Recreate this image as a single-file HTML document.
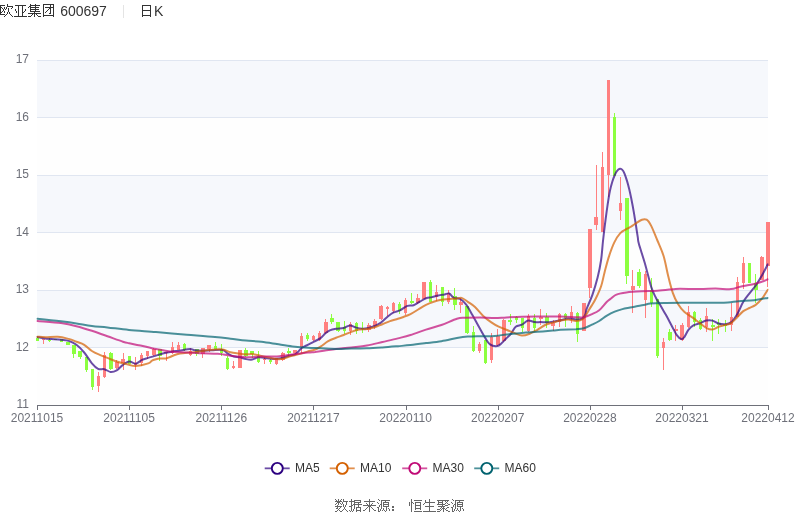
<!DOCTYPE html>
<html lang="zh"><head><meta charset="utf-8"><title>欧亚集团 600697 日K</title>
<style>
html,body{margin:0;padding:0;background:#fff;}
body{width:800px;height:517px;overflow:hidden;position:relative;font-family:"Liberation Sans",sans-serif;}
#chart{position:absolute;left:0;top:0;width:800px;height:517px;}
#txt{position:absolute;left:0;top:0;width:800px;height:517px;overflow:hidden;will-change:transform;}
.t{position:absolute;white-space:nowrap;line-height:1;}
.yl{position:absolute;width:29px;left:0;text-align:right;font-size:12px;line-height:12px;color:#6e7079;}
.xl{position:absolute;width:80px;text-align:center;font-size:12px;line-height:12px;color:#6e7079;top:411.5px;}
.lg{position:absolute;font-size:12px;line-height:14px;color:#333;top:461px;}
</style></head><body>
<svg id="chart" role="img" aria-label="欧亚集团 600697 日K 数据来源： 恒生聚源" width="800" height="517" viewBox="0 0 800 517">

<rect x="37" y="60.50" width="731" height="57.50" fill="#f6f8fc"/>
<rect x="37" y="118.00" width="731" height="57.50" fill="#fefefe"/>
<rect x="37" y="175.50" width="731" height="57.50" fill="#f6f8fc"/>
<rect x="37" y="233.00" width="731" height="57.50" fill="#fefefe"/>
<rect x="37" y="290.50" width="731" height="57.50" fill="#f6f8fc"/>
<rect x="37" y="348.00" width="731" height="57.50" fill="#fefefe"/>
<path d="M37 60.5H768" stroke="#e0e6f1" stroke-width="1" fill="none"/>
<path d="M37 117.5H768" stroke="#e0e6f1" stroke-width="1" fill="none"/>
<path d="M37 175.5H768" stroke="#e0e6f1" stroke-width="1" fill="none"/>
<path d="M37 232.5H768" stroke="#e0e6f1" stroke-width="1" fill="none"/>
<path d="M37 290.5H768" stroke="#e0e6f1" stroke-width="1" fill="none"/>
<path d="M37 347.5H768" stroke="#e0e6f1" stroke-width="1" fill="none"/>
<path d="M37 405.5H769" stroke="#6e7079" stroke-width="1" fill="none"/>
<path d="M37.5 405v5M129.5 405v5M221.5 405v5M313.5 405v5M406.5 405v5M498.5 405v5M590.5 405v5M682.5 405v5M768.5 405v5" stroke="#6e7079" stroke-width="1" fill="none"/>
<path d="M37.5 337V341" stroke="#8cff40" stroke-width="1"/><rect x="36" y="338" width="3" height="3" fill="#8cff40"/>
<path d="M43.5 339V344" stroke="#ff8080" stroke-width="1"/><rect x="42" y="339" width="3" height="1" fill="#ff8080"/>
<path d="M49.5 338V342" stroke="#8cff40" stroke-width="1"/><rect x="48" y="340" width="3" height="1" fill="#8cff40"/>
<path d="M55.5 339V340" stroke="#8cff40" stroke-width="1"/><rect x="54" y="339" width="3" height="1" fill="#8cff40"/>
<path d="M61.5 339V342" stroke="#8cff40" stroke-width="1"/><rect x="60" y="339" width="3" height="3" fill="#8cff40"/>
<path d="M67.5 342V345" stroke="#8cff40" stroke-width="1"/><rect x="66" y="342" width="4" height="3" fill="#8cff40"/>
<path d="M73.5 345V358" stroke="#8cff40" stroke-width="1"/><rect x="72" y="345" width="4" height="9" fill="#8cff40"/>
<path d="M80.5 351V359" stroke="#8cff40" stroke-width="1"/><rect x="78" y="351" width="4" height="6" fill="#8cff40"/>
<path d="M86.5 357V372" stroke="#8cff40" stroke-width="1"/><rect x="85" y="357" width="3" height="13" fill="#8cff40"/>
<path d="M92.5 369V390" stroke="#8cff40" stroke-width="1"/><rect x="91" y="369" width="3" height="18" fill="#8cff40"/>
<path d="M98.5 372V392" stroke="#ff8080" stroke-width="1"/><rect x="97" y="376" width="3" height="10" fill="#ff8080"/>
<path d="M104.5 352V378" stroke="#ff8080" stroke-width="1"/><rect x="103" y="355" width="3" height="22" fill="#ff8080"/>
<path d="M110.5 352V370" stroke="#8cff40" stroke-width="1"/><rect x="109" y="353" width="4" height="16" fill="#8cff40"/>
<path d="M116.5 360V369" stroke="#ff8080" stroke-width="1"/><rect x="115" y="362" width="4" height="6" fill="#ff8080"/>
<path d="M123.5 353V370" stroke="#ff8080" stroke-width="1"/><rect x="121" y="359" width="4" height="4" fill="#ff8080"/>
<path d="M129.5 356V364" stroke="#8cff40" stroke-width="1"/><rect x="128" y="356" width="3" height="8" fill="#8cff40"/>
<path d="M135.5 357V370" stroke="#ff8080" stroke-width="1"/><rect x="134" y="363" width="3" height="2" fill="#ff8080"/>
<path d="M141.5 353V366" stroke="#ff8080" stroke-width="1"/><rect x="140" y="355" width="3" height="8" fill="#ff8080"/>
<path d="M147.5 351V359" stroke="#ff8080" stroke-width="1"/><rect x="146" y="351" width="3" height="5" fill="#ff8080"/>
<path d="M153.5 348V356" stroke="#ff8080" stroke-width="1"/><rect x="152" y="349" width="4" height="6" fill="#ff8080"/>
<path d="M159.5 349V361" stroke="#8cff40" stroke-width="1"/><rect x="158" y="349" width="4" height="7" fill="#8cff40"/>
<path d="M166.5 352V361" stroke="#ff8080" stroke-width="1"/><rect x="164" y="352" width="4" height="1" fill="#ff8080"/>
<path d="M172.5 342V354" stroke="#ff8080" stroke-width="1"/><rect x="171" y="347" width="3" height="6" fill="#ff8080"/>
<path d="M178.5 342V350" stroke="#ff8080" stroke-width="1"/><rect x="177" y="345" width="3" height="5" fill="#ff8080"/>
<path d="M184.5 343V351" stroke="#8cff40" stroke-width="1"/><rect x="183" y="344" width="3" height="6" fill="#8cff40"/>
<path d="M190.5 348V356" stroke="#ff8080" stroke-width="1"/><rect x="189" y="351" width="3" height="4" fill="#ff8080"/>
<path d="M196.5 349V356" stroke="#8cff40" stroke-width="1"/><rect x="195" y="349" width="4" height="5" fill="#8cff40"/>
<path d="M202.5 348V358" stroke="#ff8080" stroke-width="1"/><rect x="201" y="348" width="4" height="6" fill="#ff8080"/>
<path d="M209.5 345V352" stroke="#ff8080" stroke-width="1"/><rect x="207" y="345" width="4" height="4" fill="#ff8080"/>
<path d="M215.5 342V349" stroke="#8cff40" stroke-width="1"/><rect x="214" y="346" width="3" height="3" fill="#8cff40"/>
<path d="M221.5 344V356" stroke="#8cff40" stroke-width="1"/><rect x="220" y="349" width="3" height="4" fill="#8cff40"/>
<path d="M227.5 356V370" stroke="#8cff40" stroke-width="1"/><rect x="226" y="358" width="3" height="11" fill="#8cff40"/>
<path d="M233.5 361V369" stroke="#ff8080" stroke-width="1"/><rect x="232" y="366" width="3" height="2" fill="#ff8080"/>
<path d="M239.5 350V368" stroke="#ff8080" stroke-width="1"/><rect x="238" y="350" width="4" height="18" fill="#ff8080"/>
<path d="M245.5 348V357" stroke="#8cff40" stroke-width="1"/><rect x="244" y="350" width="4" height="6" fill="#8cff40"/>
<path d="M252.5 351V358" stroke="#8cff40" stroke-width="1"/><rect x="250" y="351" width="4" height="3" fill="#8cff40"/>
<path d="M258.5 351V363" stroke="#8cff40" stroke-width="1"/><rect x="257" y="356" width="3" height="6" fill="#8cff40"/>
<path d="M264.5 357V364" stroke="#ff8080" stroke-width="1"/><rect x="263" y="359" width="3" height="1" fill="#ff8080"/>
<path d="M270.5 359V364" stroke="#8cff40" stroke-width="1"/><rect x="269" y="360" width="3" height="2" fill="#8cff40"/>
<path d="M276.5 358V365" stroke="#ff8080" stroke-width="1"/><rect x="275" y="358" width="3" height="6" fill="#ff8080"/>
<path d="M282.5 352V361" stroke="#ff8080" stroke-width="1"/><rect x="281" y="353" width="4" height="7" fill="#ff8080"/>
<path d="M288.5 348V356" stroke="#8cff40" stroke-width="1"/><rect x="287" y="351" width="4" height="2" fill="#8cff40"/>
<path d="M295.5 350V354" stroke="#ff8080" stroke-width="1"/><rect x="293" y="350" width="4" height="3" fill="#ff8080"/>
<path d="M301.5 333V353" stroke="#ff8080" stroke-width="1"/><rect x="300" y="336" width="3" height="11" fill="#ff8080"/>
<path d="M307.5 333V341" stroke="#8cff40" stroke-width="1"/><rect x="306" y="335" width="3" height="4" fill="#8cff40"/>
<path d="M313.5 335V341" stroke="#ff8080" stroke-width="1"/><rect x="312" y="336" width="3" height="4" fill="#ff8080"/>
<path d="M319.5 331V341" stroke="#ff8080" stroke-width="1"/><rect x="318" y="333" width="3" height="7" fill="#ff8080"/>
<path d="M325.5 319V334" stroke="#ff8080" stroke-width="1"/><rect x="324" y="322" width="4" height="11" fill="#ff8080"/>
<path d="M331.5 314V324" stroke="#8cff40" stroke-width="1"/><rect x="330" y="318" width="4" height="4" fill="#8cff40"/>
<path d="M338.5 322V332" stroke="#8cff40" stroke-width="1"/><rect x="336" y="322" width="4" height="9" fill="#8cff40"/>
<path d="M344.5 321V334" stroke="#8cff40" stroke-width="1"/><rect x="343" y="327" width="3" height="4" fill="#8cff40"/>
<path d="M350.5 322V335" stroke="#ff8080" stroke-width="1"/><rect x="349" y="324" width="3" height="7" fill="#ff8080"/>
<path d="M356.5 322V334" stroke="#8cff40" stroke-width="1"/><rect x="355" y="323" width="3" height="8" fill="#8cff40"/>
<path d="M362.5 322V333" stroke="#8cff40" stroke-width="1"/><rect x="361" y="328" width="3" height="1" fill="#8cff40"/>
<path d="M368.5 323V332" stroke="#ff8080" stroke-width="1"/><rect x="367" y="325" width="4" height="5" fill="#ff8080"/>
<path d="M374.5 319V329" stroke="#ff8080" stroke-width="1"/><rect x="373" y="321" width="4" height="5" fill="#ff8080"/>
<path d="M381.5 305V320" stroke="#ff8080" stroke-width="1"/><rect x="379" y="306" width="4" height="13" fill="#ff8080"/>
<path d="M387.5 306V316" stroke="#ff8080" stroke-width="1"/><rect x="386" y="307" width="3" height="2" fill="#ff8080"/>
<path d="M393.5 302V313" stroke="#ff8080" stroke-width="1"/><rect x="392" y="303" width="3" height="8" fill="#ff8080"/>
<path d="M399.5 302V314" stroke="#8cff40" stroke-width="1"/><rect x="398" y="304" width="3" height="7" fill="#8cff40"/>
<path d="M405.5 298V315" stroke="#ff8080" stroke-width="1"/><rect x="404" y="300" width="3" height="13" fill="#ff8080"/>
<path d="M411.5 293V304" stroke="#8cff40" stroke-width="1"/><rect x="410" y="301" width="4" height="2" fill="#8cff40"/>
<path d="M417.5 294V304" stroke="#ff8080" stroke-width="1"/><rect x="416" y="298" width="4" height="5" fill="#ff8080"/>
<path d="M424.5 282V299" stroke="#ff8080" stroke-width="1"/><rect x="422" y="282" width="4" height="17" fill="#ff8080"/>
<path d="M430.5 280V302" stroke="#8cff40" stroke-width="1"/><rect x="429" y="282" width="3" height="20" fill="#8cff40"/>
<path d="M436.5 285V301" stroke="#ff8080" stroke-width="1"/><rect x="435" y="292" width="3" height="5" fill="#ff8080"/>
<path d="M442.5 287V306" stroke="#8cff40" stroke-width="1"/><rect x="441" y="287" width="3" height="15" fill="#8cff40"/>
<path d="M448.5 290V304" stroke="#ff8080" stroke-width="1"/><rect x="447" y="293" width="3" height="9" fill="#ff8080"/>
<path d="M454.5 288V310" stroke="#8cff40" stroke-width="1"/><rect x="453" y="296" width="4" height="9" fill="#8cff40"/>
<path d="M460.5 298V313" stroke="#ff8080" stroke-width="1"/><rect x="459" y="302" width="4" height="3" fill="#ff8080"/>
<path d="M467.5 306V334" stroke="#8cff40" stroke-width="1"/><rect x="465" y="306" width="4" height="27" fill="#8cff40"/>
<path d="M473.5 326V352" stroke="#8cff40" stroke-width="1"/><rect x="472" y="332" width="3" height="19" fill="#8cff40"/>
<path d="M479.5 342V353" stroke="#ff8080" stroke-width="1"/><rect x="478" y="344" width="3" height="7" fill="#ff8080"/>
<path d="M485.5 340V364" stroke="#8cff40" stroke-width="1"/><rect x="484" y="340" width="3" height="23" fill="#8cff40"/>
<path d="M491.5 333V363" stroke="#ff8080" stroke-width="1"/><rect x="490" y="337" width="3" height="23" fill="#ff8080"/>
<path d="M497.5 329V346" stroke="#ff8080" stroke-width="1"/><rect x="496" y="336" width="4" height="9" fill="#ff8080"/>
<path d="M503.5 319V342" stroke="#ff8080" stroke-width="1"/><rect x="502" y="320" width="4" height="21" fill="#ff8080"/>
<path d="M510.5 314V325" stroke="#8cff40" stroke-width="1"/><rect x="508" y="320" width="4" height="2" fill="#8cff40"/>
<path d="M516.5 316V323" stroke="#8cff40" stroke-width="1"/><rect x="515" y="317" width="3" height="3" fill="#8cff40"/>
<path d="M522.5 318V332" stroke="#8cff40" stroke-width="1"/><rect x="521" y="318" width="3" height="10" fill="#8cff40"/>
<path d="M528.5 314V332" stroke="#ff8080" stroke-width="1"/><rect x="527" y="316" width="3" height="15" fill="#ff8080"/>
<path d="M534.5 314V331" stroke="#8cff40" stroke-width="1"/><rect x="533" y="318" width="3" height="10" fill="#8cff40"/>
<path d="M540.5 309V325" stroke="#ff8080" stroke-width="1"/><rect x="539" y="317" width="4" height="2" fill="#ff8080"/>
<path d="M546.5 313V328" stroke="#8cff40" stroke-width="1"/><rect x="545" y="317" width="4" height="6" fill="#8cff40"/>
<path d="M553.5 320V331" stroke="#ff8080" stroke-width="1"/><rect x="551" y="323" width="4" height="3" fill="#ff8080"/>
<path d="M559.5 313V327" stroke="#ff8080" stroke-width="1"/><rect x="558" y="314" width="3" height="8" fill="#ff8080"/>
<path d="M565.5 313V327" stroke="#8cff40" stroke-width="1"/><rect x="564" y="314" width="3" height="4" fill="#8cff40"/>
<path d="M571.5 306V323" stroke="#ff8080" stroke-width="1"/><rect x="570" y="312" width="3" height="6" fill="#ff8080"/>
<path d="M577.5 312V342" stroke="#8cff40" stroke-width="1"/><rect x="576" y="313" width="3" height="21" fill="#8cff40"/>
<path d="M583.5 303V331" stroke="#ff8080" stroke-width="1"/><rect x="582" y="303" width="4" height="28" fill="#ff8080"/>
<path d="M589.5 229V298" stroke="#ff8080" stroke-width="1"/><rect x="588" y="229" width="4" height="59" fill="#ff8080"/>
<path d="M596.5 165V230" stroke="#ff8080" stroke-width="1"/><rect x="594" y="217" width="4" height="8" fill="#ff8080"/>
<path d="M602.5 152V232" stroke="#ff8080" stroke-width="1"/><rect x="601" y="167" width="3" height="65" fill="#ff8080"/>
<path d="M608.5 80V197" stroke="#ff8080" stroke-width="1"/><rect x="607" y="80" width="3" height="95" fill="#ff8080"/>
<path d="M614.5 113V176" stroke="#8cff40" stroke-width="1"/><rect x="613" y="117" width="3" height="59" fill="#8cff40"/>
<path d="M620.5 177V220" stroke="#ff8080" stroke-width="1"/><rect x="619" y="203" width="3" height="8" fill="#ff8080"/>
<path d="M626.5 198V284" stroke="#8cff40" stroke-width="1"/><rect x="625" y="198" width="4" height="78" fill="#8cff40"/>
<path d="M632.5 270V313" stroke="#ff8080" stroke-width="1"/><rect x="631" y="286" width="4" height="4" fill="#ff8080"/>
<path d="M639.5 269V288" stroke="#8cff40" stroke-width="1"/><rect x="637" y="272" width="4" height="14" fill="#8cff40"/>
<path d="M645.5 271V318" stroke="#ff8080" stroke-width="1"/><rect x="644" y="274" width="3" height="26" fill="#ff8080"/>
<path d="M651.5 278V307" stroke="#8cff40" stroke-width="1"/><rect x="650" y="290" width="3" height="13" fill="#8cff40"/>
<path d="M657.5 299V358" stroke="#8cff40" stroke-width="1"/><rect x="656" y="299" width="3" height="57" fill="#8cff40"/>
<path d="M663.5 338V370" stroke="#ff8080" stroke-width="1"/><rect x="662" y="342" width="3" height="6" fill="#ff8080"/>
<path d="M669.5 329V341" stroke="#8cff40" stroke-width="1"/><rect x="668" y="332" width="4" height="8" fill="#8cff40"/>
<path d="M675.5 325V341" stroke="#ff8080" stroke-width="1"/><rect x="674" y="329" width="4" height="2" fill="#ff8080"/>
<path d="M682.5 323V341" stroke="#ff8080" stroke-width="1"/><rect x="680" y="325" width="4" height="15" fill="#ff8080"/>
<path d="M688.5 306V328" stroke="#ff8080" stroke-width="1"/><rect x="687" y="312" width="3" height="15" fill="#ff8080"/>
<path d="M694.5 311V327" stroke="#8cff40" stroke-width="1"/><rect x="693" y="312" width="3" height="10" fill="#8cff40"/>
<path d="M700.5 318V330" stroke="#8cff40" stroke-width="1"/><rect x="699" y="320" width="3" height="9" fill="#8cff40"/>
<path d="M706.5 308V332" stroke="#ff8080" stroke-width="1"/><rect x="705" y="316" width="3" height="11" fill="#ff8080"/>
<path d="M712.5 319V341" stroke="#8cff40" stroke-width="1"/><rect x="711" y="325" width="4" height="2" fill="#8cff40"/>
<path d="M718.5 319V334" stroke="#8cff40" stroke-width="1"/><rect x="717" y="323" width="4" height="2" fill="#8cff40"/>
<path d="M725.5 320V332" stroke="#8cff40" stroke-width="1"/><rect x="723" y="324" width="4" height="2" fill="#8cff40"/>
<path d="M731.5 303V331" stroke="#ff8080" stroke-width="1"/><rect x="730" y="317" width="3" height="8" fill="#ff8080"/>
<path d="M737.5 277V317" stroke="#ff8080" stroke-width="1"/><rect x="736" y="282" width="3" height="35" fill="#ff8080"/>
<path d="M743.5 257V289" stroke="#ff8080" stroke-width="1"/><rect x="742" y="263" width="3" height="20" fill="#ff8080"/>
<path d="M749.5 263V283" stroke="#8cff40" stroke-width="1"/><rect x="748" y="263" width="3" height="20" fill="#8cff40"/>
<path d="M755.5 274V303" stroke="#8cff40" stroke-width="1"/><rect x="754" y="283" width="4" height="7" fill="#8cff40"/>
<path d="M761.5 256V280" stroke="#ff8080" stroke-width="1"/><rect x="760" y="257" width="4" height="23" fill="#ff8080"/>
<path d="M767.5 222V287" stroke="#ff8080" stroke-width="1"/><rect x="766" y="222" width="4" height="44" fill="#ff8080"/>
<clipPath id="gc"><rect x="36.5" y="50" width="732" height="360"/></clipPath><g clip-path="url(#gc)">
<path d="M37.3 337.0C38.7 337.3 41.5 338.2 45.5 338.6C49.5 339.1 57.1 339.3 61.0 339.7C64.9 340.1 66.1 340.0 68.7 340.9C71.3 341.8 73.8 342.9 76.4 344.8C79.0 346.7 81.6 349.4 84.2 352.5C86.8 355.6 89.6 360.6 91.9 363.3C94.2 366.0 96.0 367.8 98.1 368.8C100.2 369.8 102.2 368.7 104.3 369.2C106.4 369.7 108.4 371.7 110.5 371.9C112.6 372.1 114.6 371.5 116.7 370.3C118.8 369.1 120.8 366.3 122.9 364.9C125.0 363.4 127.2 361.8 129.3 361.6C131.5 361.4 133.7 364.0 135.8 363.7C137.9 363.4 139.9 360.9 142.0 359.9C144.1 358.9 145.9 358.6 148.2 357.9C150.5 357.2 153.4 356.4 156.0 355.6C158.6 354.8 161.1 354.0 163.7 353.3C166.3 352.6 168.8 352.1 171.4 351.7C174.0 351.3 176.1 351.1 179.2 350.7C182.3 350.3 187.4 349.2 190.0 349.1C192.6 349.0 192.6 349.9 194.7 350.2C196.8 350.5 199.6 350.7 202.4 350.7C205.2 350.7 208.3 350.3 211.7 350.2C215.1 350.1 220.1 349.4 222.7 349.9C225.3 350.4 225.6 352.3 227.4 353.4C229.2 354.5 231.5 355.9 233.6 356.5C235.7 357.1 237.7 356.9 239.8 357.3C241.9 357.7 243.9 358.7 246.0 359.1C248.1 359.5 250.1 359.9 252.2 359.6C254.2 359.3 256.2 357.6 258.3 357.3C260.4 357.0 262.4 357.8 264.5 358.0C266.6 358.2 268.6 358.7 270.7 358.8C272.8 358.9 274.8 359.0 276.9 358.8C279.0 358.6 281.0 358.1 283.1 357.6C285.2 357.1 287.2 356.3 289.3 355.7C291.4 355.1 293.4 355.5 295.5 354.2C297.6 352.9 299.9 349.4 301.7 348.0C303.5 346.6 304.7 346.4 306.5 345.5C308.3 344.6 310.4 343.5 312.7 342.3C315.0 341.1 318.4 339.6 320.5 338.1C322.6 336.6 323.6 334.8 325.1 333.5C326.7 332.2 328.0 331.2 329.8 330.4C331.6 329.6 333.7 329.2 336.0 328.8C338.3 328.4 341.4 328.6 343.7 328.0C346.0 327.4 347.8 325.5 349.9 325.4C352.0 325.3 354.0 327.0 356.1 327.6C358.2 328.2 360.2 328.7 362.3 328.8C364.4 328.9 366.4 328.5 368.5 328.0C370.6 327.5 372.6 326.9 374.7 326.0C376.8 325.1 378.8 324.1 380.9 322.6C382.9 321.1 384.9 318.9 387.0 317.2C389.1 315.5 391.0 313.8 393.2 312.6C395.4 311.5 397.6 311.4 400.0 310.3C402.4 309.2 405.1 306.8 407.4 305.9C409.7 305.0 411.5 305.9 413.6 305.2C415.7 304.5 417.7 302.9 419.8 301.7C421.9 300.5 423.9 299.0 426.0 298.2C428.1 297.4 430.1 297.6 432.2 297.1C434.2 296.7 436.2 295.9 438.3 295.5C440.4 295.1 442.7 294.8 444.5 294.5C446.3 294.2 447.6 292.9 449.2 293.5C450.8 294.1 452.0 297.0 453.8 297.9C455.6 298.8 457.9 297.8 460.0 298.9C462.1 300.0 464.1 301.9 466.2 304.6C468.3 307.3 470.3 311.4 472.4 315.0C474.5 318.6 476.5 322.5 478.6 326.2C480.7 329.9 482.9 334.1 484.8 337.1C486.7 340.1 487.9 342.9 490.0 344.4C492.1 345.9 495.2 346.3 497.2 346.1C499.2 345.9 500.3 344.3 501.8 343.0C503.3 341.7 504.8 339.9 506.4 338.3C507.9 336.8 509.6 335.6 511.1 333.7C512.7 331.8 513.9 328.2 515.7 326.7C517.5 325.2 519.8 325.7 521.9 324.7C524.0 323.7 526.0 320.9 528.1 320.5C530.2 320.1 532.2 321.8 534.3 322.1C536.4 322.4 538.4 322.1 540.5 322.1C542.6 322.1 544.6 322.4 546.7 322.3C548.8 322.2 550.6 322.0 552.9 321.7C555.2 321.4 558.0 320.9 560.5 320.3C563.0 319.8 565.6 318.5 568.2 318.4C570.8 318.3 573.7 319.4 576.0 319.5C578.3 319.6 580.7 319.5 582.2 318.7C583.7 317.9 584.5 316.2 585.2 314.8C585.9 313.4 585.8 311.7 586.3 310.0C586.8 308.3 587.3 307.3 588.3 304.8C589.3 302.3 590.8 299.4 592.4 294.9C594.0 290.3 596.1 283.3 597.6 277.5C599.1 271.7 600.2 266.1 601.1 260.0C602.0 253.9 602.4 246.3 603.0 241.0C603.6 235.7 604.0 232.3 604.5 228.1C605.0 223.9 605.6 219.6 606.1 215.7C606.6 211.8 607.0 209.0 607.6 204.9C608.2 200.8 609.1 194.9 609.9 191.0C610.7 187.1 611.5 184.3 612.3 181.7C613.1 179.1 613.8 177.3 614.6 175.5C615.4 173.7 616.0 172.2 616.9 171.1C617.8 170.0 619.0 169.0 620.0 168.8C621.0 168.6 621.8 169.2 622.6 170.1C623.4 170.9 623.9 172.1 624.6 173.9C625.3 175.7 626.2 178.3 627.0 180.9C627.8 183.5 628.5 186.2 629.3 189.4C630.1 192.6 630.8 196.3 631.6 200.2C632.4 204.1 633.2 208.5 633.9 212.6C634.6 216.7 635.2 220.9 635.9 225.0C636.5 229.1 637.3 234.3 637.8 237.4C638.3 240.5 637.6 239.2 638.8 243.6C640.0 248.0 642.9 256.5 645.0 263.7C647.1 270.9 649.4 281.2 651.2 286.9C653.0 292.6 654.6 295.1 656.0 298.0C657.4 300.9 658.1 301.4 659.8 304.3C661.5 307.2 663.9 311.4 666.0 315.1C668.1 318.8 670.4 323.4 672.2 326.7C674.0 330.0 675.3 333.1 676.8 335.2C678.3 337.3 680.1 338.8 681.4 339.1C682.7 339.4 683.3 338.4 684.5 336.8C685.7 335.2 686.9 331.7 688.4 329.8C689.9 327.9 691.9 326.3 693.8 325.2C695.7 324.1 697.9 324.0 700.0 323.2C702.1 322.4 704.1 321.0 706.2 320.6C708.3 320.2 710.3 320.1 712.4 320.6C714.5 321.1 716.5 322.9 718.6 323.5C720.7 324.1 722.7 324.5 724.8 324.3C726.9 324.1 728.9 324.1 731.0 322.4C733.1 320.7 735.2 317.6 737.2 314.2C739.2 310.8 741.2 305.3 743.3 301.8C745.3 298.3 747.4 296.0 749.5 293.3C751.6 290.6 753.6 288.5 755.7 285.5C757.8 282.5 759.9 279.0 761.9 275.5C763.9 272.0 766.8 266.2 767.8 264.3" stroke="#2c0080" stroke-opacity="0.7" stroke-width="2" fill="none" stroke-linejoin="round" stroke-linecap="round"/>
<path d="M37.3 336.7C38.7 336.8 42.1 337.3 45.5 337.3C48.9 337.3 54.0 336.4 57.9 336.7C61.8 337.0 65.6 338.1 68.7 338.9C71.8 339.7 73.8 340.7 76.4 341.7C79.0 342.7 81.6 343.2 84.2 344.8C86.8 346.4 89.3 349.3 91.9 351.0C94.5 352.7 97.1 353.7 99.7 354.8C102.3 355.9 104.8 356.9 107.4 357.9C110.0 358.9 112.5 360.1 115.1 361.0C117.7 361.9 120.6 362.7 122.9 363.3C125.2 363.9 126.8 364.3 129.0 364.8C131.2 365.3 132.6 366.3 135.8 366.1C139.0 365.9 145.5 364.3 148.2 363.4C150.9 362.5 150.7 361.3 152.0 360.6C153.3 359.9 154.7 359.6 156.0 359.2C157.3 358.8 158.3 358.6 160.0 358.5C161.7 358.4 164.3 358.6 166.0 358.4C167.7 358.1 168.7 357.5 170.0 357.0C171.3 356.5 172.3 355.8 174.0 355.2C175.7 354.6 177.8 354.0 180.0 353.6C182.2 353.2 184.5 353.0 186.9 352.8C189.3 352.6 192.1 352.5 194.7 352.2C197.3 351.9 199.6 351.4 202.4 351.0C205.2 350.6 208.3 349.9 211.7 349.7C215.1 349.4 219.6 349.1 222.7 349.5C225.8 349.9 227.9 351.7 230.5 352.3C233.1 352.9 235.6 353.1 238.2 353.4C240.8 353.7 243.4 354.1 246.0 354.2C248.6 354.3 251.1 353.9 253.7 354.2C256.3 354.5 258.8 355.4 261.4 356.0C264.0 356.6 266.6 357.1 269.2 357.6C271.8 358.1 274.6 358.9 276.9 359.1C279.2 359.3 281.0 359.2 283.1 358.8C285.2 358.4 287.2 357.1 289.3 356.5C291.4 355.9 293.4 355.5 295.5 355.0C297.6 354.5 299.6 354.0 301.7 353.4C303.8 352.8 305.8 352.0 307.9 351.4C310.0 350.8 312.4 350.6 314.5 349.8C316.6 349.0 318.2 348.0 320.5 346.6C322.8 345.2 325.6 342.7 328.2 341.2C330.8 339.7 333.4 338.8 336.0 337.8C338.6 336.8 341.1 336.0 343.7 335.0C346.3 334.0 348.8 332.8 351.4 331.9C354.0 331.0 356.6 330.1 359.2 329.6C361.8 329.1 364.3 329.5 366.9 329.1C369.5 328.7 372.1 328.1 374.7 327.3C377.3 326.5 379.8 325.2 382.4 324.2C385.0 323.2 387.5 322.0 390.1 321.1C392.7 320.2 395.8 319.5 397.9 318.8C400.0 318.1 400.6 318.0 402.7 317.2C404.8 316.4 407.9 315.4 410.5 314.1C413.1 312.8 415.6 311.1 418.2 309.5C420.8 307.9 423.4 306.1 426.0 304.8C428.6 303.5 431.1 302.6 433.7 301.7C436.3 300.8 438.8 300.1 441.4 299.7C444.0 299.3 446.6 299.3 449.2 299.1C451.8 298.9 454.8 298.8 456.9 298.6C459.0 298.4 459.8 297.4 461.6 297.9C463.4 298.4 465.6 300.3 467.8 301.8C470.0 303.3 472.4 304.6 475.0 307.0C477.6 309.4 480.5 313.4 483.2 315.9C485.9 318.4 488.4 320.3 491.0 322.1C493.6 323.9 496.1 325.4 498.7 326.7C501.3 328.0 503.8 328.8 506.4 329.8C509.0 330.8 511.6 331.9 514.2 332.9C516.8 333.9 519.3 335.5 521.9 335.6C524.5 335.7 527.1 334.7 529.7 333.7C532.3 332.7 534.8 331.2 537.4 329.8C540.0 328.4 542.5 326.2 545.1 325.0C547.7 323.8 550.2 323.3 552.8 322.6C555.4 321.9 557.9 321.1 560.5 320.6C563.1 320.1 565.6 319.4 568.2 319.5C570.8 319.6 573.7 321.0 576.0 321.0C578.3 321.0 580.5 320.6 582.2 319.5C583.9 318.4 585.2 316.2 586.3 314.6C587.4 313.0 587.9 311.7 588.9 310.0C589.9 308.3 591.2 306.4 592.4 304.5C593.6 302.6 594.4 301.4 595.9 298.3C597.4 295.2 599.6 290.6 601.1 286.2C602.6 281.8 603.3 277.1 604.6 272.2C605.9 267.3 607.3 261.5 608.9 256.6C610.5 251.7 612.3 246.5 614.2 242.6C616.1 238.7 618.1 235.4 620.3 233.1C622.5 230.8 625.4 229.8 627.2 228.7C629.0 227.6 629.9 227.3 631.1 226.6C632.3 225.9 632.4 225.7 634.2 224.5C636.0 223.3 639.8 220.5 641.9 219.7C644.0 218.9 645.0 218.7 646.6 219.7C648.2 220.7 649.4 222.4 651.2 225.9C653.0 229.4 655.3 235.5 657.4 240.5C659.5 245.5 661.8 250.1 663.6 256.0C665.4 261.9 666.7 269.9 668.2 276.1C669.8 282.3 671.3 288.5 672.9 293.1C674.5 297.8 676.1 300.9 678.0 304.0C679.9 307.1 682.1 309.8 684.5 312.0C686.9 314.2 689.7 315.5 692.3 317.4C694.9 319.3 697.7 321.5 700.0 323.2C702.3 324.9 704.1 326.8 706.2 327.8C708.3 328.9 710.3 329.7 712.4 329.5C714.5 329.3 716.5 327.5 718.6 326.8C720.7 326.1 722.7 325.7 724.8 325.1C726.9 324.5 728.9 324.4 731.0 323.1C733.1 321.8 735.2 319.3 737.2 317.3C739.2 315.3 741.2 312.7 743.3 311.1C745.3 309.6 747.4 309.0 749.5 308.0C751.6 307.0 753.6 306.4 755.7 304.9C757.8 303.3 759.9 301.2 761.9 298.7C763.9 296.2 766.8 291.2 767.8 289.7" stroke="#d46000" stroke-opacity="0.7" stroke-width="2" fill="none" stroke-linejoin="round" stroke-linecap="round"/>
<path d="M37.3 321.0C41.2 321.4 54.5 322.2 61.0 323.1C67.5 324.0 71.2 324.9 76.4 326.2C81.6 327.5 86.7 329.1 91.9 330.8C97.1 332.5 102.2 334.5 107.4 336.3C112.6 338.1 119.3 340.6 122.9 341.7C126.5 342.8 126.1 342.6 129.0 343.2C131.9 343.8 136.0 344.5 140.5 345.5C145.0 346.5 150.8 348.1 156.0 349.1C161.2 350.1 166.2 351.1 171.4 351.7C176.6 352.3 181.7 352.2 186.9 352.5C192.1 352.8 197.2 353.1 202.4 353.3C207.6 353.5 213.2 353.4 217.9 353.8C222.6 354.2 225.8 355.1 230.5 355.7C235.2 356.3 240.8 357.2 246.0 357.3C251.2 357.4 256.2 356.6 261.4 356.5C266.5 356.4 273.0 356.7 276.9 356.5C280.8 356.3 282.1 355.7 284.7 355.4C287.3 355.1 288.5 355.0 292.4 354.5C296.3 354.0 304.1 353.0 307.9 352.6C311.7 352.2 312.1 352.2 315.0 351.9C317.9 351.5 321.5 351.0 325.0 350.5C328.5 350.0 331.6 349.4 336.0 348.9C340.4 348.4 346.2 348.0 351.4 347.4C356.5 346.8 361.7 346.4 366.9 345.5C372.1 344.6 377.2 343.2 382.4 342.0C387.6 340.8 393.2 339.6 397.9 338.4C402.6 337.2 405.8 336.5 410.5 335.0C415.2 333.5 420.9 331.3 426.0 329.6C431.1 327.9 436.2 326.8 441.4 325.0C446.5 323.2 453.0 320.0 456.9 318.8C460.8 317.6 460.8 318.0 464.7 317.8C468.6 317.6 475.1 317.6 480.1 317.6C485.2 317.7 490.6 318.1 495.0 318.1C499.4 318.1 501.9 317.6 506.4 317.4C510.9 317.2 516.7 316.9 521.9 316.7C527.1 316.5 531.0 316.4 537.4 316.4C543.8 316.4 554.1 316.5 560.5 316.6C566.9 316.7 572.1 317.1 576.0 317.2C579.9 317.3 581.1 317.7 583.7 317.2C586.3 316.7 588.8 315.6 591.4 314.4C594.0 313.2 596.6 312.3 599.2 310.2C601.8 308.1 604.9 303.6 606.9 301.7C608.9 299.8 609.7 299.5 611.0 298.5C612.3 297.5 613.4 296.3 614.7 295.5C616.0 294.7 616.8 294.4 618.7 293.9C620.7 293.4 622.5 292.8 626.4 292.4C630.3 292.0 636.7 291.6 641.9 291.3C647.1 291.0 652.2 291.2 657.4 290.8C662.6 290.4 669.1 289.6 672.9 289.2C676.7 288.8 675.5 288.7 680.0 288.7C684.5 288.7 694.1 289.1 700.0 289.1C705.9 289.1 710.3 288.6 715.5 288.6C720.7 288.6 727.1 289.4 731.0 289.1C734.9 288.9 736.1 287.7 738.7 287.1C741.3 286.5 743.8 286.0 746.4 285.5C749.0 285.0 751.6 284.6 754.2 284.0C756.8 283.4 759.6 282.5 761.9 281.7C764.2 280.9 766.8 279.7 767.8 279.3" stroke="#c00a76" stroke-opacity="0.7" stroke-width="2" fill="none" stroke-linejoin="round" stroke-linecap="round"/>
<path d="M37.3 318.7C41.2 319.1 54.5 320.5 61.0 321.3C67.5 322.1 71.2 322.6 76.4 323.4C81.6 324.2 86.7 325.2 91.9 325.9C97.1 326.6 101.2 326.7 107.4 327.4C113.6 328.1 120.9 329.2 129.0 330.0C137.1 330.8 146.3 331.3 156.0 332.1C165.7 332.9 177.1 333.9 186.9 334.7C196.7 335.5 207.7 336.3 215.0 337.0C222.3 337.7 225.3 338.1 230.5 338.7C235.7 339.3 240.8 340.1 246.0 340.6C251.2 341.1 256.2 341.2 261.4 341.8C266.5 342.4 271.7 343.3 276.9 344.1C282.1 344.9 287.2 345.8 292.4 346.4C297.6 347.0 303.2 347.5 307.9 347.8C312.6 348.1 315.8 348.0 320.5 348.2C325.2 348.4 330.9 348.8 336.0 348.9C341.1 349.0 346.2 348.7 351.4 348.6C356.5 348.5 361.7 348.4 366.9 348.2C372.1 348.0 377.2 347.7 382.4 347.4C387.6 347.1 393.2 346.6 397.9 346.2C402.6 345.8 405.8 345.6 410.5 345.1C415.2 344.6 420.9 343.8 426.0 343.1C431.1 342.5 436.2 342.0 441.4 341.2C446.5 340.4 452.5 338.9 456.9 338.1C461.3 337.3 463.9 336.9 467.8 336.6C471.7 336.3 475.6 336.3 480.1 336.2C484.6 336.1 490.6 336.2 495.0 335.9C499.4 335.6 501.9 335.0 506.4 334.5C510.9 334.0 516.7 333.3 521.9 332.9C527.1 332.4 532.2 332.2 537.4 331.8C542.6 331.4 549.0 330.9 552.9 330.6C556.8 330.3 556.6 330.0 560.5 329.8C564.4 329.6 572.1 329.4 576.0 329.2C579.9 328.9 581.1 329.0 583.7 328.3C586.3 327.6 588.8 326.1 591.4 324.9C594.0 323.7 596.6 322.6 599.2 321.0C601.8 319.4 604.3 317.2 606.9 315.6C609.5 314.1 612.1 312.8 614.7 311.7C617.3 310.6 619.8 309.8 622.4 309.1C625.0 308.4 627.5 308.1 630.1 307.6C632.7 307.1 635.4 306.5 637.9 306.0C640.4 305.5 642.9 305.2 645.0 304.8C647.1 304.4 647.0 303.8 650.5 303.5C654.0 303.2 660.9 303.1 666.0 303.0C671.1 302.9 676.2 302.8 681.4 302.7C686.5 302.6 691.7 302.7 696.9 302.7C702.1 302.7 707.2 302.7 712.4 302.7C717.6 302.7 723.5 302.8 727.9 302.5C732.3 302.2 734.3 301.6 738.7 301.2C743.1 300.8 749.4 300.8 754.2 300.2C759.1 299.6 765.5 298.3 767.8 297.9" stroke="#00626f" stroke-opacity="0.7" stroke-width="2" fill="none" stroke-linejoin="round" stroke-linecap="round"/>
</g>
<path d="M264.7 468.35h25" stroke="#2c0080" stroke-opacity="0.7" stroke-width="1.8"/><circle cx="277.3" cy="468.35" r="5.5" fill="#fff" stroke="#2c0080" stroke-width="1.9"/>
<path d="M329.7 468.35h25" stroke="#d46000" stroke-opacity="0.7" stroke-width="1.8"/><circle cx="342.3" cy="468.35" r="5.5" fill="#fff" stroke="#d46000" stroke-width="1.9"/>
<path d="M402.2 468.35h25" stroke="#c00a76" stroke-opacity="0.7" stroke-width="1.8"/><circle cx="414.8" cy="468.35" r="5.5" fill="#fff" stroke="#c00a76" stroke-width="1.9"/>
<path d="M474.2 468.35h25" stroke="#00626f" stroke-opacity="0.7" stroke-width="1.8"/><circle cx="486.8" cy="468.35" r="5.5" fill="#fff" stroke="#00626f" stroke-width="1.9"/>
<path d="M123.5 5V18" stroke="#e4e4e4" stroke-width="1"/>
<g fill="#333" shape-rendering="crispEdges" aria-label="欧亚集团 日"><path transform="translate(0,2)" d="M7 2h1v1h-1zM30 2h1v1h-1zM35 2h1v1h-1zM43 2h11v1h-11zM0 3h5v1h-5zM7 3h1v1h-1zM15 3h11v1h-11zM30 3h10v1h-10zM43 3h1v1h-1zM50 3h1v1h-1zM53 3h1v1h-1zM0 4h1v1h-1zM7 4h6v1h-6zM18 4h1v1h-1zM22 4h1v1h-1zM29 4h2v1h-2zM35 4h1v1h-1zM43 4h1v1h-1zM50 4h1v1h-1zM53 4h1v1h-1zM0 5h2v1h-2zM4 5h1v1h-1zM6 5h1v1h-1zM12 5h1v1h-1zM18 5h1v1h-1zM22 5h1v1h-1zM28 5h1v1h-1zM30 5h9v1h-9zM43 5h1v1h-1zM45 5h9v1h-9zM0 6h1v1h-1zM2 6h1v1h-1zM4 6h1v1h-1zM6 6h1v1h-1zM8 6h1v1h-1zM11 6h1v1h-1zM18 6h1v1h-1zM22 6h1v1h-1zM30 6h1v1h-1zM35 6h1v1h-1zM43 6h1v1h-1zM49 6h2v1h-2zM53 6h1v1h-1zM0 7h1v1h-1zM3 7h1v1h-1zM5 7h1v1h-1zM8 7h1v1h-1zM15 7h1v1h-1zM18 7h1v1h-1zM22 7h1v1h-1zM25 7h1v1h-1zM30 7h9v1h-9zM43 7h1v1h-1zM48 7h1v1h-1zM50 7h1v1h-1zM53 7h1v1h-1zM0 8h1v1h-1zM3 8h1v1h-1zM8 8h1v1h-1zM15 8h1v1h-1zM18 8h1v1h-1zM22 8h1v1h-1zM25 8h1v1h-1zM30 8h1v1h-1zM35 8h1v1h-1zM43 8h1v1h-1zM47 8h1v1h-1zM50 8h1v1h-1zM53 8h1v1h-1zM0 9h1v1h-1zM2 9h1v1h-1zM4 9h1v1h-1zM8 9h1v1h-1zM16 9h1v1h-1zM18 9h1v1h-1zM22 9h1v1h-1zM24 9h1v1h-1zM30 9h10v1h-10zM43 9h1v1h-1zM46 9h1v1h-1zM50 9h1v1h-1zM53 9h1v1h-1zM0 10h2v1h-2zM4 10h1v1h-1zM7 10h1v1h-1zM9 10h1v1h-1zM16 10h1v1h-1zM18 10h1v1h-1zM22 10h2v1h-2zM34 10h1v1h-1zM43 10h1v1h-1zM45 10h1v1h-1zM50 10h1v1h-1zM53 10h1v1h-1zM0 11h1v1h-1zM7 11h1v1h-1zM9 11h1v1h-1zM18 11h1v1h-1zM22 11h1v1h-1zM28 11h13v1h-13zM43 11h1v1h-1zM49 11h2v1h-2zM53 11h1v1h-1zM0 12h5v1h-5zM6 12h1v1h-1zM10 12h1v1h-1zM18 12h1v1h-1zM22 12h1v1h-1zM32 12h1v1h-1zM34 12h1v1h-1zM36 12h1v1h-1zM43 12h1v1h-1zM53 12h1v1h-1zM5 13h1v1h-1zM11 13h1v1h-1zM18 13h1v1h-1zM22 13h1v1h-1zM31 13h1v1h-1zM34 13h1v1h-1zM37 13h1v1h-1zM43 13h11v1h-11zM4 14h1v1h-1zM12 14h1v1h-1zM14 14h13v1h-13zM28 14h3v1h-3zM34 14h1v1h-1zM38 14h3v1h-3zM43 14h1v1h-1zM53 14h1v1h-1z"/><path transform="translate(140,2)" d="M2 3h9v1h-9zM2 4h1v1h-1zM10 4h1v1h-1zM2 5h1v1h-1zM10 5h1v1h-1zM2 6h1v1h-1zM10 6h1v1h-1zM2 7h1v1h-1zM10 7h1v1h-1zM2 8h9v1h-9zM2 9h1v1h-1zM10 9h1v1h-1zM2 10h1v1h-1zM10 10h1v1h-1zM2 11h1v1h-1zM10 11h1v1h-1zM2 12h1v1h-1zM10 12h1v1h-1zM2 13h9v1h-9zM2 14h1v1h-1zM10 14h1v1h-1z"/></g>
<g fill="#666" shape-rendering="crispEdges" aria-label="数据来源： 恒生聚源"><path transform="translate(335,497)" d="M0 2h1v1h-1zM3 2h1v1h-1zM6 2h1v1h-1zM8 2h1v1h-1zM16 2h1v1h-1zM34 2h1v1h-1zM43 2h1v1h-1zM1 3h1v1h-1zM3 3h1v1h-1zM5 3h1v1h-1zM8 3h1v1h-1zM16 3h1v1h-1zM19 3h7v1h-7zM34 3h1v1h-1zM44 3h1v1h-1zM46 3h9v1h-9zM0 4h7v1h-7zM8 4h5v1h-5zM14 4h6v1h-6zM25 4h1v1h-1zM29 4h11v1h-11zM46 4h1v1h-1zM50 4h1v1h-1zM2 5h3v1h-3zM7 5h1v1h-1zM11 5h1v1h-1zM16 5h1v1h-1zM19 5h7v1h-7zM34 5h1v1h-1zM42 5h1v1h-1zM46 5h1v1h-1zM48 5h6v1h-6zM1 6h1v1h-1zM3 6h1v1h-1zM5 6h1v1h-1zM7 6h1v1h-1zM11 6h1v1h-1zM16 6h1v1h-1zM19 6h1v1h-1zM23 6h1v1h-1zM31 6h1v1h-1zM34 6h1v1h-1zM37 6h1v1h-1zM43 6h1v1h-1zM46 6h1v1h-1zM48 6h1v1h-1zM53 6h1v1h-1zM0 7h1v1h-1zM3 7h1v1h-1zM6 7h1v1h-1zM8 7h1v1h-1zM11 7h1v1h-1zM16 7h1v1h-1zM18 7h9v1h-9zM32 7h1v1h-1zM34 7h1v1h-1zM36 7h1v1h-1zM45 7h2v1h-2zM48 7h6v1h-6zM2 8h1v1h-1zM8 8h1v1h-1zM10 8h1v1h-1zM16 8h2v1h-2zM19 8h1v1h-1zM23 8h1v1h-1zM28 8h13v1h-13zM44 8h1v1h-1zM46 8h1v1h-1zM48 8h1v1h-1zM53 8h1v1h-1zM0 9h7v1h-7zM8 9h1v1h-1zM10 9h1v1h-1zM14 9h3v1h-3zM19 9h1v1h-1zM23 9h1v1h-1zM33 9h3v1h-3zM44 9h1v1h-1zM46 9h1v1h-1zM48 9h6v1h-6zM2 10h1v1h-1zM5 10h1v1h-1zM9 10h1v1h-1zM16 10h1v1h-1zM19 10h1v1h-1zM21 10h5v1h-5zM32 10h1v1h-1zM34 10h1v1h-1zM36 10h1v1h-1zM42 10h2v1h-2zM46 10h1v1h-1zM51 10h1v1h-1zM1 11h2v1h-2zM4 11h1v1h-1zM9 11h1v1h-1zM16 11h1v1h-1zM19 11h1v1h-1zM21 11h1v1h-1zM25 11h1v1h-1zM31 11h1v1h-1zM34 11h1v1h-1zM37 11h1v1h-1zM43 11h1v1h-1zM46 11h1v1h-1zM48 11h1v1h-1zM51 11h1v1h-1zM53 11h1v1h-1zM3 12h1v1h-1zM8 12h1v1h-1zM10 12h1v1h-1zM16 12h1v1h-1zM18 12h1v1h-1zM21 12h1v1h-1zM25 12h1v1h-1zM30 12h1v1h-1zM34 12h1v1h-1zM38 12h1v1h-1zM43 12h1v1h-1zM45 12h1v1h-1zM48 12h1v1h-1zM51 12h1v1h-1zM54 12h1v1h-1zM2 13h1v1h-1zM4 13h1v1h-1zM7 13h1v1h-1zM11 13h1v1h-1zM14 13h1v1h-1zM16 13h1v1h-1zM18 13h1v1h-1zM21 13h5v1h-5zM28 13h2v1h-2zM34 13h1v1h-1zM39 13h2v1h-2zM43 13h1v1h-1zM45 13h1v1h-1zM47 13h1v1h-1zM49 13h1v1h-1zM51 13h1v1h-1zM54 13h1v1h-1zM0 14h2v1h-2zM5 14h2v1h-2zM12 14h1v1h-1zM15 14h1v1h-1zM17 14h1v1h-1zM21 14h1v1h-1zM25 14h1v1h-1zM34 14h1v1h-1zM43 14h2v1h-2zM50 14h1v1h-1z"/><path d="M392 506h2v2h-2zM392 509h2v2h-2z"/><path transform="translate(409,497)" d="M2 2h1v1h-1zM20 2h1v1h-1zM43 2h1v1h-1zM2 3h1v1h-1zM5 3h8v1h-8zM16 3h1v1h-1zM20 3h1v1h-1zM28 3h12v1h-12zM44 3h1v1h-1zM46 3h9v1h-9zM2 4h1v1h-1zM16 4h1v1h-1zM20 4h1v1h-1zM29 4h1v1h-1zM33 4h1v1h-1zM36 4h1v1h-1zM38 4h1v1h-1zM46 4h1v1h-1zM50 4h1v1h-1zM0 5h1v1h-1zM2 5h2v1h-2zM6 5h6v1h-6zM16 5h10v1h-10zM29 5h5v1h-5zM37 5h1v1h-1zM42 5h1v1h-1zM46 5h1v1h-1zM48 5h6v1h-6zM0 6h1v1h-1zM2 6h1v1h-1zM4 6h1v1h-1zM6 6h1v1h-1zM11 6h1v1h-1zM15 6h1v1h-1zM20 6h1v1h-1zM29 6h1v1h-1zM33 6h1v1h-1zM36 6h1v1h-1zM38 6h1v1h-1zM43 6h1v1h-1zM46 6h1v1h-1zM48 6h1v1h-1zM53 6h1v1h-1zM0 7h1v1h-1zM2 7h1v1h-1zM6 7h1v1h-1zM11 7h1v1h-1zM14 7h1v1h-1zM20 7h1v1h-1zM28 7h8v1h-8zM39 7h2v1h-2zM45 7h2v1h-2zM48 7h6v1h-6zM0 8h1v1h-1zM2 8h1v1h-1zM6 8h6v1h-6zM20 8h1v1h-1zM33 8h1v1h-1zM36 8h3v1h-3zM44 8h1v1h-1zM46 8h1v1h-1zM48 8h1v1h-1zM53 8h1v1h-1zM2 9h1v1h-1zM6 9h1v1h-1zM11 9h1v1h-1zM16 9h9v1h-9zM29 9h7v1h-7zM44 9h1v1h-1zM46 9h1v1h-1zM48 9h6v1h-6zM2 10h1v1h-1zM6 10h1v1h-1zM11 10h1v1h-1zM20 10h1v1h-1zM32 10h1v1h-1zM34 10h1v1h-1zM38 10h2v1h-2zM42 10h2v1h-2zM46 10h1v1h-1zM51 10h1v1h-1zM2 11h1v1h-1zM6 11h6v1h-6zM20 11h1v1h-1zM31 11h1v1h-1zM33 11h3v1h-3zM37 11h1v1h-1zM43 11h1v1h-1zM46 11h1v1h-1zM48 11h1v1h-1zM51 11h1v1h-1zM53 11h1v1h-1zM2 12h1v1h-1zM6 12h1v1h-1zM11 12h1v1h-1zM20 12h1v1h-1zM28 12h3v1h-3zM32 12h1v1h-1zM34 12h1v1h-1zM36 12h1v1h-1zM43 12h1v1h-1zM45 12h1v1h-1zM48 12h1v1h-1zM51 12h1v1h-1zM54 12h1v1h-1zM2 13h1v1h-1zM20 13h1v1h-1zM31 13h1v1h-1zM34 13h1v1h-1zM37 13h2v1h-2zM43 13h1v1h-1zM45 13h1v1h-1zM47 13h1v1h-1zM49 13h1v1h-1zM51 13h1v1h-1zM54 13h1v1h-1zM2 14h1v1h-1zM5 14h8v1h-8zM14 14h13v1h-13zM28 14h3v1h-3zM34 14h1v1h-1zM39 14h2v1h-2zM43 14h2v1h-2zM50 14h1v1h-1z"/></g>
</svg>
<div id="txt">
<div class="t" style="left:60.2px;top:4px;font-size:14px;color:#333;">600697</div>
<div class="t" style="left:154px;top:4px;font-size:14px;color:#333;">K</div>
<div class="yl" style="top:53.0px">17</div>
<div class="yl" style="top:110.5px">16</div>
<div class="yl" style="top:168.0px">15</div>
<div class="yl" style="top:225.5px">14</div>
<div class="yl" style="top:283.0px">13</div>
<div class="yl" style="top:340.5px">12</div>
<div class="yl" style="top:398.0px">11</div>
<div class="xl" style="left:-3.0px">20211015</div>
<div class="xl" style="left:89.1px">20211105</div>
<div class="xl" style="left:181.3px">20211126</div>
<div class="xl" style="left:273.4px">20211217</div>
<div class="xl" style="left:365.6px">20220110</div>
<div class="xl" style="left:457.7px">20220207</div>
<div class="xl" style="left:549.9px">20220228</div>
<div class="xl" style="left:642.0px">20220321</div>
<div class="xl" style="left:728.0px">20220412</div>
<div class="lg" style="left:295px">MA5</div>
<div class="lg" style="left:360px">MA10</div>
<div class="lg" style="left:432.5px">MA30</div>
<div class="lg" style="left:504.5px">MA60</div>
</div>
</body></html>
